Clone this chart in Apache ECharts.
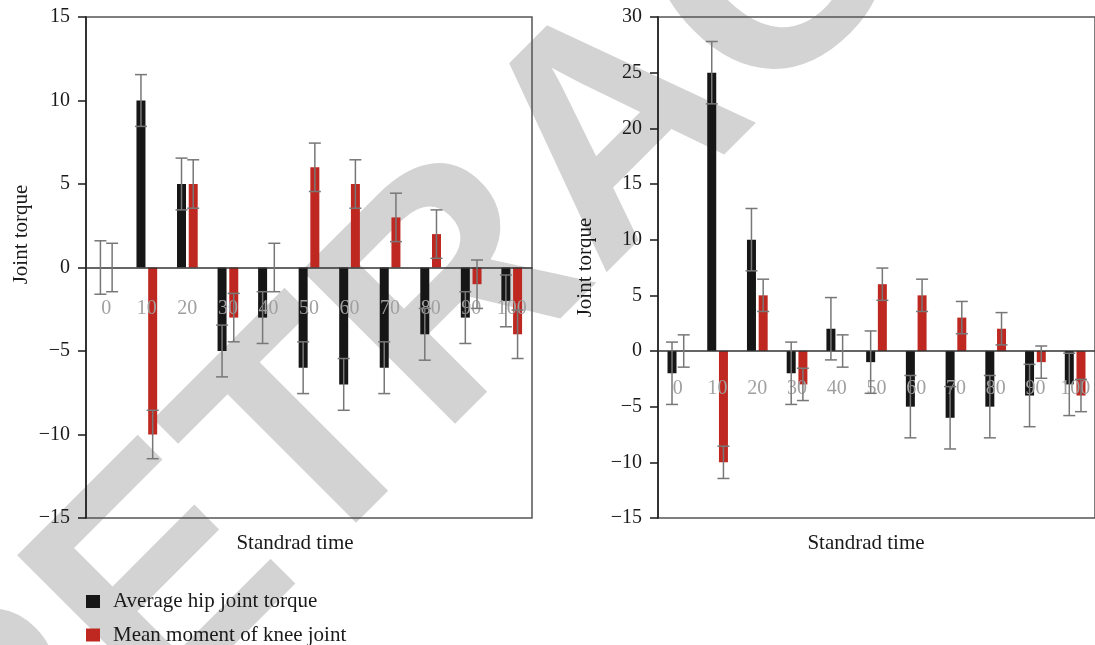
<!DOCTYPE html>
<html>
<head>
<meta charset="utf-8">
<title>Joint torque</title>
<script src="https://cdn.jsdelivr.net/npm/echarts@6/dist/echarts.min.js"></script>
<style>
  html, body { margin: 0; padding: 0; background: #fff; }
  #main { width: 1095px; height: 645px; }
</style>
</head>
<body>
<div id="main"></div>
<script>
// standard time (x categories)
var categories = ['0', '10', '20', '30', '40', '50', '60', '70', '80', '90', '100'];
var seriesNames = ['Average hip joint torque', 'Mean moment of knee joint'];

// left panel
var hipLeft = [0, 10, 5, -5, -3, -6, -7, -6, -4, -3, -2];
var hipLeftErr = [1.6, 1.55, 1.55, 1.55, 1.55, 1.55, 1.55, 1.55, 1.55, 1.55, 1.55];
var kneeLeft = [0, -10, 5, -3, 0, 6, 5, 3, 2, -1, -4];
var kneeLeftErr = [1.45, 1.45, 1.45, 1.45, 1.45, 1.45, 1.45, 1.45, 1.45, 1.45, 1.45];

// right panel
var hipRight = [-2, 25, 10, -2, 2, -1, -5, -6, -5, -4, -3];
var hipRightErr = [2.8, 2.8, 2.8, 2.8, 2.8, 2.8, 2.8, 2.8, 2.8, 2.8, 2.8];
var kneeRight = [0, -10, 5, -3, 0, 6, 5, 3, 2, -1, -4];
var kneeRightErr = [1.45, 1.45, 1.45, 1.45, 1.45, 1.45, 1.45, 1.45, 1.45, 1.45, 1.45];

// y axis ranges [min, max, step]
var yLeftTicks = [-15, 15, 5];
var yRightTicks = [-15, 30, 5];

var myChart = echarts.init(document.getElementById('main'));

var serif = 'Liberation Serif';
var hipColor = '#161616';
var kneeColor = '#be2820';
var plotTop = 17;
var plotH = 501;
var barW = 9;
var barGapPct = 0.3;
var barOffset = (barW + barW * barGapPct) / 2;
var capHalf = 6;

function minusSign(v) {
  return String(v).replace('-', '\u2212');
}

// x axis sits on the zero line (shifted up from the grid bottom), labels drawn over the bars
function xAxisCfg(idx, ticks, margin) {
  var zeroUp = plotH * (0 - ticks[0]) / (ticks[1] - ticks[0]);
  return {
    type: 'category',
    gridIndex: idx,
    data: categories,
    offset: -zeroUp,
    z: 3,
    axisLine: { onZero: false, lineStyle: { color: '#333', width: 1.5 } },
    axisTick: { inside: true, length: 7, lineStyle: { color: '#333', width: 1.5 } },
    axisLabel: { interval: 0, margin: margin, color: '#a0a0a0', fontSize: 20, fontFamily: serif }
  };
}

function yAxisCfg(idx, ticks, gap, pad) {
  return {
    type: 'value',
    gridIndex: idx,
    min: ticks[0],
    max: ticks[1],
    interval: ticks[2],
    name: 'Joint torque',
    nameLocation: 'middle',
    nameGap: gap,
    nameTextStyle: { fontSize: 21, fontFamily: serif, color: '#1a1a1a', padding: pad },
    splitLine: { show: false },
    axisLine: { show: true, onZero: false, lineStyle: { color: '#1a1a1a', width: 1.5 } },
    axisTick: { show: true, length: 8, lineStyle: { color: '#1a1a1a', width: 1.5 } },
    axisLabel: { margin: 16, fontSize: 20, fontFamily: serif, color: '#1a1a1a', formatter: minusSign }
  };
}

function barSeries(name, idx, values, color) {
  return {
    name: name,
    type: 'bar',
    xAxisIndex: idx,
    yAxisIndex: idx,
    barWidth: barW,
    barGap: (barGapPct * 100) + '%',
    itemStyle: { color: color },
    data: values
  };
}

// error bars drawn over the bars
function errorSeries(name, idx, values, errs, side) {
  return {
    name: name,
    type: 'custom',
    xAxisIndex: idx,
    yAxisIndex: idx,
    z: 5,
    silent: true,
    encode: { x: 0, y: [1, 2] },
    data: values.map(function (v, i) { return [i, v - errs[i], v + errs[i]]; }),
    renderItem: function (params, api) {
      var lo = api.coord([api.value(0), api.value(1)]);
      var hi = api.coord([api.value(0), api.value(2)]);
      var x = lo[0] + side * barOffset;
      function seg(x1, y1, x2, y2) {
        return {
          type: 'line',
          shape: { x1: x1, y1: y1, x2: x2, y2: y2 },
          style: { stroke: '#777', lineWidth: 1.5 }
        };
      }
      return {
        type: 'group',
        children: [
          seg(x, lo[1], x, hi[1]),
          seg(x - capHalf, lo[1], x + capHalf, lo[1]),
          seg(x - capHalf, hi[1], x + capHalf, hi[1])
        ]
      };
    }
  };
}

function legendCfg(name, top) {
  return {
    data: [name],
    left: 81,
    top: top,
    icon: 'rect',
    itemWidth: 14,
    itemHeight: 13,
    textStyle: { fontSize: 21, fontFamily: serif, color: '#1a1a1a', padding: [0, 0, 0, 8] }
  };
}

var option = {
  animation: false,
  backgroundColor: '#fff',
  grid: [
    { left: 86, top: plotTop, width: 446, height: plotH, show: true, borderColor: '#555', borderWidth: 1.5 },
    { left: 658, top: plotTop, width: 445, height: plotH, show: true, borderColor: '#555', borderWidth: 1.5 }
  ],
  legend: [legendCfg(seriesNames[0], 586), legendCfg(seriesNames[1], 619.5)],
  xAxis: [xAxisCfg(0, yLeftTicks, 31), xAxisCfg(1, yRightTicks, 28)],
  yAxis: [yAxisCfg(0, yLeftTicks, 54, [0, 0, 0, 66]), yAxisCfg(1, yRightTicks, 62, 0)],
  graphic: [
    {
      type: 'text',
      x: 620,
      y: 136,
      rotation: 45 * Math.PI / 180,
      z: -10,
      silent: true,
      style: {
        text: 'RETRACTED',
        fontSize: 315,
        fontWeight: 'bold',
        fontFamily: 'Liberation Sans',
        fill: '#d3d3d3',
        align: 'center',
        verticalAlign: 'middle'
      }
    },
    {
      type: 'text', x: 295, y: 543, z: 10,
      style: { text: 'Standrad time', fontSize: 21, fontFamily: serif, fill: '#1a1a1a', align: 'center', verticalAlign: 'middle' }
    },
    {
      type: 'text', x: 866, y: 543, z: 10,
      style: { text: 'Standrad time', fontSize: 21, fontFamily: serif, fill: '#1a1a1a', align: 'center', verticalAlign: 'middle' }
    }
  ],
  series: [
    barSeries(seriesNames[0], 0, hipLeft, hipColor),
    barSeries(seriesNames[1], 0, kneeLeft, kneeColor),
    barSeries(seriesNames[0], 1, hipRight, hipColor),
    barSeries(seriesNames[1], 1, kneeRight, kneeColor),
    errorSeries('hip error left', 0, hipLeft, hipLeftErr, -1),
    errorSeries('knee error left', 0, kneeLeft, kneeLeftErr, 1),
    errorSeries('hip error right', 1, hipRight, hipRightErr, -1),
    errorSeries('knee error right', 1, kneeRight, kneeRightErr, 1)
  ]
};

myChart.setOption(option);
window.addEventListener('resize', function () {
  myChart.resize();
});
</script>
</body>
</html>
